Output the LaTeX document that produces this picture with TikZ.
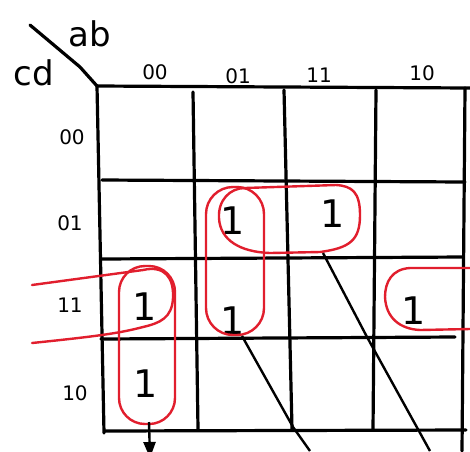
\documentclass[tikz,border=0pt]{standalone}
\usepackage{fontspec}
\setmainfont{DejaVu Sans}
\usetikzlibrary{arrows.meta}
\definecolor{penred}{RGB}{225,30,45}
\begin{document}
\begin{tikzpicture}[x=1pt,y=-1pt,
  grid/.style={line width=3.2pt,black,line cap=round},
  loop/.style={line width=2.4pt,penred,line cap=round},
  lbl/.style={font=\fontsize{20}{20}\selectfont,inner sep=0pt},
  big/.style={font=\fontsize{34}{34}\selectfont,inner sep=0pt},
  one/.style={font=\fontsize{38}{38}\selectfont,inner sep=0pt},
  lead/.style={line width=2.4pt,black}]
\useasboundingbox (0,0) rectangle (470,451);
\fill[white] (0,0) rectangle (470,451);
% corner
\draw[grid] (30,25) -- (80,67) .. controls (88,76) .. (97,86);
\node[big] (ab) at (90,34) {ab};
\node[big] (cd) at (34,73) {cd};
% column labels
\node[lbl] (c00) at (155,72) {00};
\node[lbl] (c01) at (238,76) {01};
\node[lbl] (c11) at (319,75) {11};
\node[lbl] (c10) at (422,73) {10};
% row labels
\node[lbl] (r00) at (72,137) {00};
\node[lbl] (r01) at (70,223) {01};
\node[lbl] (r11) at (70,305) {11};
\node[lbl] (r10) at (75,393) {10};
% grid
\draw[grid] (97,86) -- (470,88);
\draw[grid] (102,180) -- (465,182);
\draw[grid] (101,259) -- (463,257);
\draw[grid] (101,339) -- (455,337);
\draw[grid] (105,431) -- (466,430);
\draw[grid] (97,86) -- (104,433);
\draw[grid] (193,92) -- (198,429);
\draw[grid] (284,90) -- (292,429);
\draw[grid] (376,90) -- (373,430);
\draw[grid] (465,88) -- (462,451);
% ones
\node[one] (m1) at (233,221) {1};
\node[one] (m2) at (333,214) {1};
\node[one] (m3) at (145,307) {1};
\node[one] (m4) at (233,321) {1};
\node[one] (m5) at (414,311) {1};
\node[one] (m6) at (146,384) {1};
% loops
\draw[loop,rounded corners=26pt] (119,266) rectangle (175,424);
\draw[loop,rounded corners=27pt] (206,187) rectangle (264,335);
\draw[loop] (245,188) .. controls (230,188) and (218,200) .. (219,218)
  .. controls (220,240) and (240,252) .. (270,253)
  -- (320,252) .. controls (350,248) and (360,240) .. (360,215)
  .. controls (360,192) and (352,186) .. (336,185) -- cycle;
\draw[loop] (32,285) -- (143,270) .. controls (165,265) and (174,278) .. (173,298)
  .. controls (172,318) and (160,323) .. (143,327)
  .. controls (120,333) and (100,336) .. (32,343);
\draw[loop] (470,268) -- (410,268) .. controls (392,269) and (385,282) .. (385,297)
  .. controls (386,318) and (400,329) .. (420,330) -- (470,329);
% leader lines
\coordinate (e1) at (310,451);
\coordinate (e2) at (430,451);
\coordinate (e3) at (150,458);
\coordinate (s1) at (242,336);
\coordinate (s2) at (323,253);
\coordinate (s3) at (149,422);
\draw[lead] (s1) -- (293,427) -- (e1);
\draw[lead] (s2) -- (367,337) -- (e2);
\draw[lead,-{Triangle[length=16pt,width=12pt]}] (s3) -- (e3);
\end{tikzpicture}
\end{document}
